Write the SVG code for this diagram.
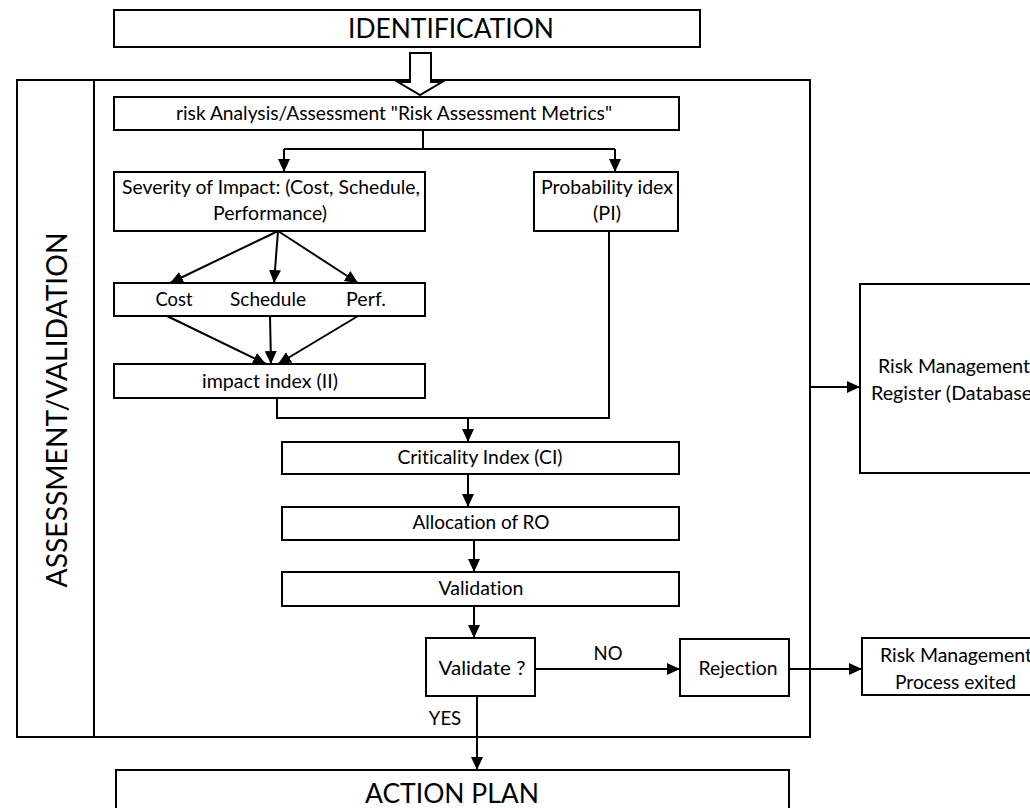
<svg xmlns="http://www.w3.org/2000/svg" width="1030" height="808" viewBox="0 0 1030 808">
<defs>
<style>
.b{fill:#fff;stroke:#000;stroke-width:2}
.t{font-family:Lato,"Open Sans","Liberation Sans",sans-serif;font-size:18.5px;fill:#000;text-anchor:middle;font-variant-ligatures:none}
.big{font-size:26px}
.c{fill:none;stroke:#000;stroke-width:2}
</style>
<marker id="ah" markerUnits="userSpaceOnUse" markerWidth="14" markerHeight="14" refX="13" refY="7" orient="auto">
<path d="M0,1 L13,7 L0,13 z" fill="#000"/>
</marker>
</defs>
<rect width="1030" height="808" fill="#fff"/>

<g id="assessment-frame">
<rect class="b" x="17" y="80" width="793" height="657" fill="none"/>
<line class="c" x1="94" y1="80" x2="94" y2="737"/>
<text class="t big" style="font-size:28px" transform="translate(57,410) rotate(-90)" dy="10" textLength="355" lengthAdjust="spacingAndGlyphs">ASSESSMENT/VALIDATION</text>
</g>

<g id="identification">
<rect class="b" x="114" y="10" width="586" height="37"/>
<text class="t big" x="451" y="38" textLength="206" lengthAdjust="spacingAndGlyphs">IDENTIFICATION</text>
</g>

<g id="hollow-arrow">
<path d="M410,53 L431,53 L431,82 L442,82 L420,95 L398,82 L410,82 Z" fill="#fff" stroke="#000" stroke-width="2"/>
</g>

<g id="risk-analysis">
<rect class="b" x="114" y="97" width="565" height="33"/>
<text class="t" x="394" y="120" textLength="436" lengthAdjust="spacingAndGlyphs">risk Analysis/Assessment "Risk Assessment Metrics"</text>
</g>

<g id="severity">
<rect class="b" x="114" y="172" width="311" height="59"/>
<text class="t" x="271" y="194" textLength="298" lengthAdjust="spacingAndGlyphs">Severity of Impact: (Cost, Schedule,</text>
<text class="t" x="270" y="220" textLength="114" lengthAdjust="spacingAndGlyphs">Performance)</text>
</g>

<g id="probability">
<rect class="b" x="534" y="172" width="144" height="59"/>
<text class="t" x="607" y="194" textLength="132" lengthAdjust="spacingAndGlyphs">Probability idex</text>
<text class="t" x="607" y="220" textLength="28" lengthAdjust="spacingAndGlyphs">(PI)</text>
</g>

<g id="components">
<rect class="b" x="114" y="283" width="311" height="33"/>
<text class="t" x="174" y="306" textLength="37" lengthAdjust="spacingAndGlyphs">Cost</text>
<text class="t" x="268" y="306" textLength="76" lengthAdjust="spacingAndGlyphs">Schedule</text>
<text class="t" x="366" y="306" textLength="40" lengthAdjust="spacingAndGlyphs">Perf.</text>
</g>

<g id="impact-index">
<rect class="b" x="114" y="364" width="311" height="34"/>
<text class="t" x="270" y="388" textLength="136" lengthAdjust="spacingAndGlyphs">impact index (II)</text>
</g>

<g id="criticality">
<rect class="b" x="282" y="442" width="397" height="32"/>
<text class="t" x="480" y="464" textLength="165" lengthAdjust="spacingAndGlyphs">Criticality Index (CI)</text>
</g>

<g id="allocation">
<rect class="b" x="282" y="507" width="397" height="33"/>
<text class="t" x="481" y="529" textLength="137" lengthAdjust="spacingAndGlyphs">Allocation of RO</text>
</g>

<g id="validation">
<rect class="b" x="282" y="572" width="397" height="34"/>
<text class="t" x="481" y="595" textLength="85" lengthAdjust="spacingAndGlyphs">Validation</text>
</g>

<g id="validate">
<rect class="b" x="426" y="638" width="109" height="58"/>
<text class="t" x="482" y="675" textLength="87" lengthAdjust="spacingAndGlyphs">Validate ?</text>
</g>

<g id="rejection">
<rect class="b" x="680" y="639" width="109" height="57"/>
<text class="t" x="738" y="675" textLength="79" lengthAdjust="spacingAndGlyphs">Rejection</text>
</g>

<g id="process-exited">
<rect class="b" x="862" y="638" width="180" height="57"/>
<text class="t" x="880" y="662" style="text-anchor:start" textLength="152" lengthAdjust="spacingAndGlyphs">Risk Management</text>
<text class="t" x="895" y="689" style="text-anchor:start" textLength="121" lengthAdjust="spacingAndGlyphs">Process exited</text>
</g>

<g id="register">
<rect class="b" x="860" y="284" width="190" height="189"/>
<text class="t" x="878" y="373" style="text-anchor:start" textLength="152" lengthAdjust="spacingAndGlyphs">Risk Management</text>
<text class="t" x="871" y="400" style="text-anchor:start" textLength="166" lengthAdjust="spacingAndGlyphs">Register (Database)</text>
</g>

<g id="action-plan">
<rect class="b" x="116" y="770" width="673" height="50"/>
<text class="t big" x="452" y="803" textLength="174" lengthAdjust="spacingAndGlyphs">ACTION PLAN</text>
</g>

<g id="connectors">
<polyline class="c" points="423,130 423,149"/>
<polyline class="c" points="284,149 615,149"/>
<line class="c" x1="284" y1="149" x2="284" y2="172" marker-end="url(#ah)"/>
<line class="c" x1="615" y1="149" x2="615" y2="172" marker-end="url(#ah)"/>
<line class="c" x1="278" y1="231" x2="170" y2="283" marker-end="url(#ah)"/>
<line class="c" x1="278" y1="231" x2="274" y2="283" marker-end="url(#ah)"/>
<line class="c" x1="278" y1="231" x2="358" y2="283" marker-end="url(#ah)"/>
<line class="c" x1="167" y1="316" x2="266" y2="364" marker-end="url(#ah)"/>
<line class="c" x1="270" y1="316" x2="271" y2="364" marker-end="url(#ah)"/>
<line class="c" x1="358" y1="316" x2="278" y2="364" marker-end="url(#ah)"/>
<polyline class="c" points="277,398 277,418 609,418 609,231"/>
<line class="c" x1="468" y1="418" x2="468" y2="442" marker-end="url(#ah)"/>
<line class="c" x1="468" y1="474" x2="468" y2="507" marker-end="url(#ah)"/>
<line class="c" x1="474" y1="540" x2="474" y2="572" marker-end="url(#ah)"/>
<line class="c" x1="474" y1="606" x2="474" y2="638" marker-end="url(#ah)"/>
<line class="c" x1="535" y1="669" x2="680" y2="669" marker-end="url(#ah)"/>
<text class="t" x="608" y="660">NO</text>
<line class="c" x1="789" y1="669" x2="862" y2="669" marker-end="url(#ah)"/>
<line class="c" x1="477" y1="696" x2="477" y2="770" marker-end="url(#ah)"/>
<text class="t" x="445" y="725">YES</text>
<line class="c" x1="810" y1="387" x2="860" y2="387" marker-end="url(#ah)"/>
</g>
</svg>
